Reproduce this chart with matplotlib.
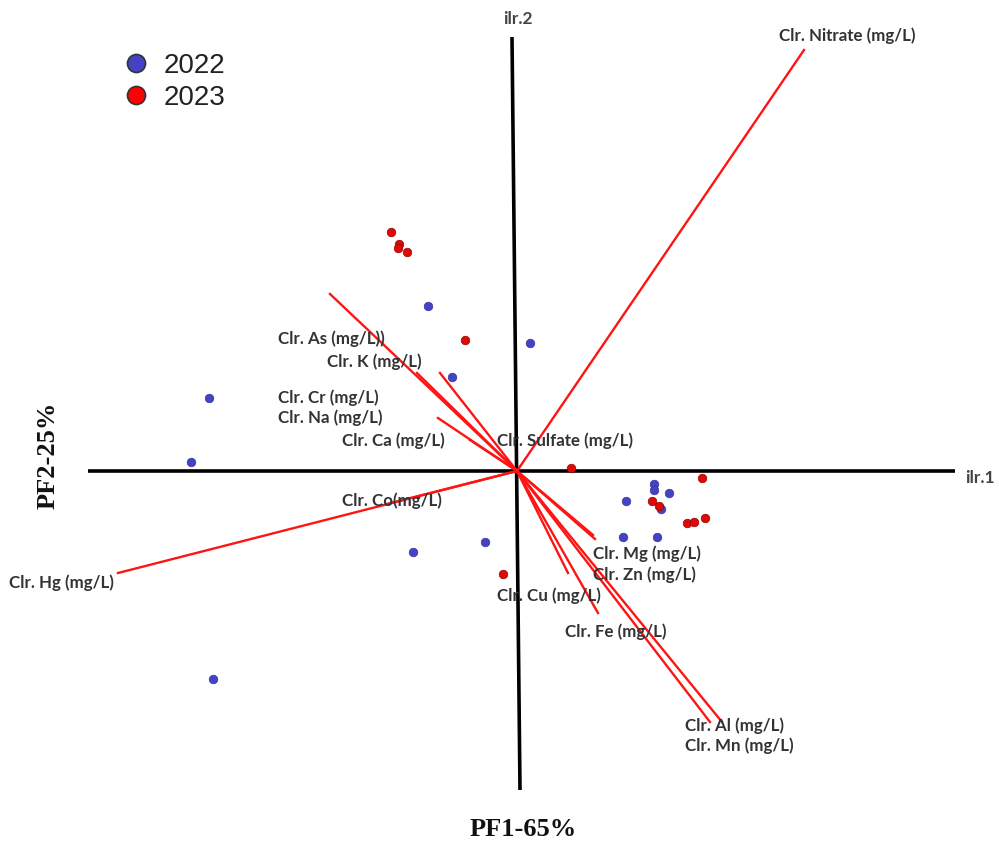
import matplotlib
matplotlib.use("Agg")
import matplotlib.pyplot as plt
from matplotlib.lines import Line2D

# ---------------- data ----------------
variables = ["Clr. Nitrate (mg/L)", "Clr. As (mg/L))", "Clr. K (mg/L)", "Clr. Cr (mg/L)",
             "Clr. Na (mg/L)", "Clr. Ca (mg/L)", "Clr. Hg (mg/L)", "Clr. Co(mg/L)",
             "Clr. Mg (mg/L)", "Clr. Zn (mg/L)", "Clr. Cu (mg/L)", "Clr. Fe (mg/L)",
             "Clr. Al (mg/L)", "Clr. Mn (mg/L)", "Clr. Sulfate (mg/L)"]
load_pf1 = [2.87, -1.87, -0.77, -1.00, -0.79, -0.47, -3.99, -1.30, 0.78, 0.76, 0.51, 0.81, 2.05, 1.93, 0.00]
load_pf2 = [4.21, 1.77, 0.98, 0.98, 0.53, 0.31, -1.02, -0.33, -0.68, -0.64, -1.02, -1.42, -2.51, -2.51, 0.00]

pts2022_x = [-0.89, 0.13, -0.65, -3.08, -3.26, -1.04, -0.32, -3.04, 1.37, 1.37, 1.52, 1.09, 1.44, 1.06, 1.40]
pts2022_y = [1.65, 1.28, 0.94, 0.73, 0.09, -0.81, -0.71, -2.08, -0.13, -0.19, -0.22, -0.30, -0.38, -0.66, -0.66]
pts2023_x = [-1.26, -1.18, -1.19, -1.10, -0.52, 0.54, -0.14, 1.85, 1.35, 1.42, 1.70, 1.77, 1.88]
pts2023_y = [2.39, 2.27, 2.23, 2.19, 1.31, 0.03, -1.03, -0.07, -0.30, -0.35, -0.52, -0.51, -0.47]

years = ["2022", "2023"]

# ---------------- layout (label positions, in plot units) ----------------
label_pos = {
    "Clr. Nitrate (mg/L)": (2.62, 4.35),
    "Clr. As (mg/L))": (-2.39, 1.32),
    "Clr. K (mg/L)": (-1.90, 1.09),
    "Clr. Cr (mg/L)": (-2.39, 0.73),
    "Clr. Na (mg/L)": (-2.39, 0.53),
    "Clr. Ca (mg/L)": (-1.75, 0.30),
    "Clr. Sulfate (mg/L)": (-0.20, 0.30),
    "Clr. Co(mg/L)": (-1.75, -0.30),
    "Clr. Hg (mg/L)": (-5.08, -1.12),
    "Clr. Mg (mg/L)": (0.76, -0.83),
    "Clr. Zn (mg/L)": (0.76, -1.04),
    "Clr. Cu (mg/L)": (-0.20, -1.25),
    "Clr. Fe (mg/L)": (0.48, -1.61),
    "Clr. Al (mg/L)": (1.68, -2.55),
    "Clr. Mn (mg/L)": (1.68, -2.75),
}

blue = "#4343c4"
red = "#dd0a0a"

fig = plt.figure(figsize=(9.99, 8.43), dpi=100)
ax = fig.add_axes([0, 0, 1, 1])
ax.set_xlim(-5.17, 4.82)
ax.set_ylim(-3.72, 4.71)
ax.axis("off")

# axes cross
ax.plot([-4.29, 4.38], [0, 0], color="black", lw=2.6, solid_capstyle="butt", zorder=1)
ax.plot([-0.05, 0.03], [4.34, -3.19], color="black", lw=2.6, solid_capstyle="butt", zorder=1)

# loading vectors
for name, lx, ly in zip(variables, load_pf1, load_pf2):
    if lx != 0 or ly != 0:
        ax.plot([0, lx], [0, ly], color="#ff1414", lw=1.7, zorder=2)

# scores
ax.scatter(pts2022_x, pts2022_y, s=38, color=blue, edgecolors="#3535a0", linewidths=0.5, zorder=3)
ax.scatter(pts2023_x, pts2023_y, s=38, color=red, edgecolors="#a00000", linewidths=0.5, zorder=3)

# labels
lab_font = dict(family=["Lato", "DejaVu Sans"], fontweight="bold", fontsize=12.2, color="#333333")
for name in variables:
    x, y = label_pos[name]
    ax.text(x, y, name, ha="left", va="center", zorder=4, **lab_font)

ax.text(0.01, 4.52, "ilr.2", ha="center", va="center", family=["Lato", "DejaVu Sans"],
        fontweight="bold", fontsize=12.5, color="#444444")
ax.text(4.48, -0.07, "ilr.1", ha="left", va="center", family=["Lato", "DejaVu Sans"],
        fontweight="bold", fontsize=12.5, color="#444444")

serif = dict(family=["Liberation Serif", "DejaVu Serif"], fontweight="bold", fontsize=19, color="#111111")
ax.text(0.06, -3.59, "PF1-65%", ha="center", va="center", **serif)
ax.text(-4.69, 0.16, "PF2-25%", ha="center", va="center", rotation=90, **serif)

# legend
handles = [Line2D([], [], ls="none", marker="o", markersize=13, markerfacecolor=blue,
                  markeredgecolor="#333333", markeredgewidth=1.2),
           Line2D([], [], ls="none", marker="o", markersize=13, markerfacecolor="#ff0000",
                  markeredgecolor="#333333", markeredgewidth=1.2)]
leg = ax.legend(handles, years, loc="upper left", bbox_to_anchor=(0.122, 0.937), frameon=False,
                prop=dict(family=["Liberation Sans", "DejaVu Sans"], size=20),
                handletextpad=0.5, labelspacing=0.2, borderaxespad=0, borderpad=0,
                handlelength=1.0)
for t in leg.get_texts():
    t.set_color("#222222")

fig.savefig("out.png", dpi=100)
